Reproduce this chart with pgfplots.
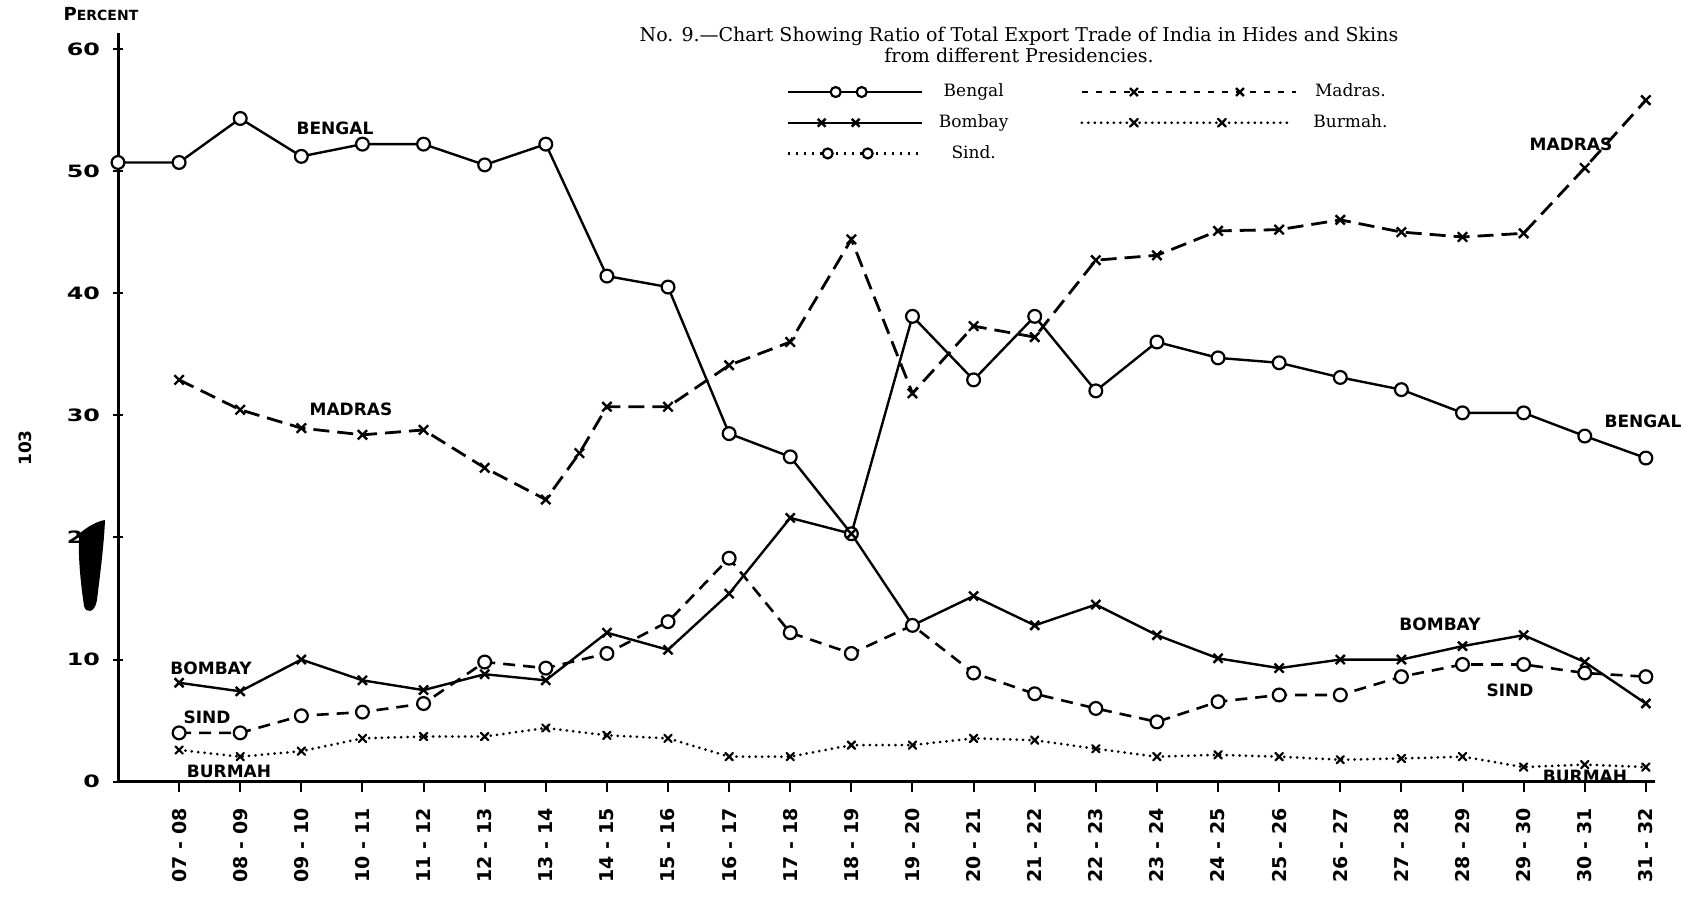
\documentclass[border=0pt]{standalone}
\usepackage{fontspec}
\usepackage{pgfplots}
\pgfplotsset{compat=1.18}
\setmainfont{DejaVu Serif}
\newfontfamily\lab{DejaVu Sans}
\newfontfamily\labw{DejaVu Sans}[FakeStretch=1.4]
\newcommand{\lf}{\lab\bfseries\fontsize{8.5}{9}\selectfont}
\newcommand{\yf}{\labw\bfseries\fontsize{8.5}{9}\selectfont}
\newcommand{\xf}{\lab\bfseries\fontsize{9.5}{10}\selectfont}
\newcommand{\tf}{\fontsize{8.5}{8.2}\selectfont}
\newcommand{\ttf}{\fontsize{9.5}{8.6}\selectfont}
\newcommand{\yr}[2]{#1\hspace{3.5pt}-\hspace{3.5pt}#2}
\pgfplotsset{
  legBengal/.style={legend image code/.code={\draw[##1, mark size=2.5pt, mark indices={2,3}] plot coordinates {(0pt,0pt) (24pt,0pt) (37pt,0pt) (67pt,0pt)};}},
  legMadras/.style={legend image code/.code={\draw[##1, dash pattern=on 3pt off 4pt, mark size=2.8pt, mark indices={2,3}] plot coordinates {(0pt,0pt) (26pt,0pt) (79pt,0pt) (107pt,0pt)};}},
  legBombay/.style={legend image code/.code={\draw[##1, mark size=2.8pt, mark indices={2,3}] plot coordinates {(0pt,0pt) (17pt,0pt) (34pt,0pt) (67pt,0pt)};}},
  legBurmah/.style={legend image code/.code={\draw[##1, mark size=2.8pt, mark indices={2,3}] plot coordinates {(0pt,0pt) (26pt,0pt) (70pt,0pt) (103pt,0pt)};}},
  legSind/.style={legend image code/.code={\draw[##1, mark size=2.5pt, dash pattern=on 1pt off 3pt, mark indices={2,3}] plot coordinates {(0pt,0pt) (20pt,0pt) (40pt,0pt) (67pt,0pt)};}},
}
\begin{document}
\begin{tikzpicture}
\begin{axis}[
  scale only axis, width=768.5pt, height=374.35pt,
  xmin=0, xmax=25.15, ymin=0, ymax=61.3,
  axis x line=bottom, axis y line=left,
  axis line style={-, line width=1.5pt},
  clip=false,
  xtick={1,...,25},
  xticklabels={\yr{07}{08},\yr{08}{09},\yr{09}{10},\yr{10}{11},\yr{11}{12},\yr{12}{13},\yr{13}{14},\yr{14}{15},\yr{15}{16},\yr{16}{17},\yr{17}{18},\yr{18}{19},\yr{19}{20},\yr{20}{21},\yr{21}{22},\yr{22}{23},\yr{23}{24},\yr{24}{25},\yr{25}{26},\yr{26}{27},\yr{27}{28},\yr{28}{29},\yr{29}{30},\yr{30}{31},\yr{31}{32}},
  ytick={0,10,20,30,40,50,60},
  xtick align=outside, ytick align=center,
  major tick length=5pt,
  tick style={black, line width=1pt},
  /pgf/number format/assume math mode=true,
  xticklabel style={font=\xf, yshift=-4.7pt, rotate=90, anchor=east},
  yticklabel style={font=\yf, xshift=-3pt},
  legend columns=2,
  legend style={at={(0.4307,0.943)}, anchor=north west, draw=none, fill=none, font=\tf,
    row sep=3.4pt, /tikz/every even column/.append style={column sep=34pt}},
]
% Bengal
\addplot[black, line width=1.2pt, mark=*, mark size=3.2pt, mark options={solid, fill=white, line width=1.1pt}, legBengal]
coordinates {(0,50.7)(1,50.7)(2,54.3)(3,51.2)(4,52.2)(5,52.2)(6,50.5)(7,52.2)(8,41.4)(9,40.5)(10,28.5)(11,26.6)(12,20.3)(13,38.1)(14,32.9)(15,38.1)(16,32.0)(17,36.0)(18,34.7)(19,34.3)(20,33.1)(21,32.1)(22,30.2)(23,30.2)(24,28.3)(25,26.5)};
\addlegendentry{\hspace{6pt}Bengal}
% Madras
\addplot[black, line width=1.4pt, dash pattern=on 8pt off 4pt, mark=x, mark size=3.3pt, mark options={solid, line width=1.2pt}, legMadras]
coordinates {(1,32.9)(2,30.45)(3,28.95)(4,28.4)(5,28.8)(6,25.7)(7,23.1)(7.55,26.9)(8,30.7)(9,30.7)(10,34.1)(11,36.0)(12,44.4)(13,31.8)(14,37.3)(15,36.4)(16,42.7)(17,43.1)(18,45.1)(19,45.2)(20,46.0)(21,45.0)(22,44.6)(23,44.9)(24,50.25)(25,55.8)};
\addlegendentry{\hspace{6pt}Madras.}
% Bombay
\addplot[black, line width=1.2pt, mark=x, mark size=3.2pt, mark options={solid, line width=1.2pt}, legBombay]
coordinates {(1,8.1)(2,7.4)(3,10.0)(4,8.3)(5,7.5)(6,8.8)(7,8.3)(8,12.2)(9,10.8)(10,15.4)(11,21.6)(12,20.3)(13,12.8)(14,15.2)(15,12.8)(16,14.5)(17,12.0)(18,10.1)(19,9.3)(20,10.0)(21,10.0)(22,11.1)(23,12.0)(24,9.8)(25,6.4)};
\addlegendentry{\hspace{6pt}Bombay}
% Burmah
\addplot[black, line width=1.5pt, line cap=round, dash pattern=on 0pt off 3.2pt, mark=x, mark size=2.6pt, mark options={solid, line width=1.1pt}, legBurmah]
coordinates {(1,2.6)(2,2.05)(3,2.5)(4,3.55)(5,3.7)(6,3.7)(7,4.4)(8,3.8)(9,3.55)(10,2.05)(11,2.05)(12,3.0)(13,3.0)(14,3.55)(15,3.4)(16,2.7)(17,2.05)(18,2.2)(19,2.05)(20,1.8)(21,1.9)(22,2.05)(23,1.2)(24,1.4)(25,1.2)};
\addlegendentry{\hspace{6pt}Burmah.}
% Sind
\addplot[black, line width=1.3pt, dash pattern=on 6pt off 4pt, mark=*, mark size=3.2pt, mark options={solid, fill=white, line width=1.1pt}, legSind]
coordinates {(1,4.0)(2,4.0)(3,5.4)(4,5.7)(5,6.4)(6,9.8)(7,9.3)(8,10.5)(9,13.1)(10,18.3)(11,12.2)(12,10.5)(13,12.8)(14,8.9)(15,7.2)(16,6.0)(17,4.9)(18,6.55)(19,7.1)(20,7.1)(21,8.6)(22,9.6)(23,9.6)(24,8.9)(25,8.6)};
\addlegendentry{\hspace{6pt}Sind.}
\end{axis}
\begin{scope}[x=0.5pt, y=-0.5pt, shift={(-59pt,390.85pt)}]
  \fill[black] (79,534) .. controls (88,526) and (98,521) .. (105,520) .. controls (104,545) and (100,575) .. (97,600) .. controls (95,613) and (86,614) .. (84,606) .. controls (81,585) and (78,560) .. cycle;
  \node[font=\lf] at (335,128) {BENGAL};
  \node[font=\lf] at (351,409) {MADRAS};
  \node[font=\lf] at (211,668) {BOMBAY};
  \node[font=\lf] at (207,717) {SIND};
  \node[font=\lf] at (229,771) {BURMAH};
  \node[font=\lf] at (1571,144) {MADRAS};
  \node[font=\lf] at (1643,421) {BENGAL};
  \node[font=\lf] at (1440,624) {BOMBAY};
  \node[font=\lf] at (1510,690) {SIND};
  \node[font=\lf] at (1585,776) {BURMAH};
  \node[font=\lab\bfseries] at (101,14) {\fontsize{9}{9}\selectfont P\fontsize{7}{7}\selectfont ERCENT};
  \node[font=\lf, rotate=90] at (25,448) {103};
  \node[font=\ttf, align=center] at (1019,45) {No. 9.---Chart Showing Ratio of Total Export Trade of India in Hides and Skins\\from different Presidencies.};
\end{scope}
\pgfresetboundingbox
\path[use as bounding box] (-59pt,-57.15pt) rectangle (788.5pt,390.85pt);
\end{tikzpicture}
\end{document}
